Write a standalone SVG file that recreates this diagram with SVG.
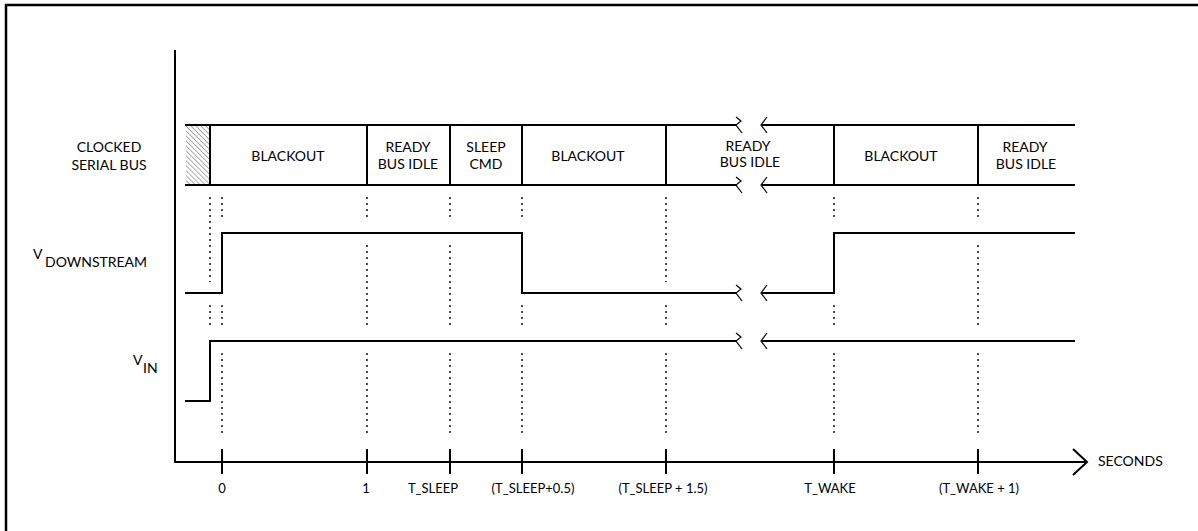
<svg xmlns="http://www.w3.org/2000/svg" width="1198" height="531" viewBox="0 0 1198 531">
<defs>
<pattern id="hatch" patternUnits="userSpaceOnUse" width="3.5" height="3.5" patternTransform="rotate(-45)">
<line x1="0" y1="0" x2="0" y2="3.5" stroke="#333" stroke-width="0.8"/>
</pattern>
</defs>
<style>
.ln{fill:none;stroke:#000;stroke-width:2}
.thin{fill:none;stroke:#000;stroke-width:1.2}
.dot{fill:none;stroke:#000;stroke-width:1.4;stroke-dasharray:2 4}
text{font-family:Lato,"Liberation Sans",sans-serif;fill:#000}
.lbl{font-size:14px}
.tk{font-size:13px;text-anchor:middle}
.c{text-anchor:middle}
</style>
<rect x="6" y="5" width="1200" height="540" fill="#fff" stroke="#000" stroke-width="2.5"/>

<g id="axes">
<line class="ln" x1="175" y1="50" x2="175" y2="462"/>
<line class="ln" x1="174" y1="462" x2="1087" y2="462"/>
<polyline class="ln" points="1073,449 1087,462 1073,475"/>
<g class="ln">
<line x1="222" y1="449" x2="222" y2="474"/>
<line x1="367" y1="449" x2="367" y2="474"/>
<line x1="450" y1="449" x2="450" y2="474"/>
<line x1="522" y1="449" x2="522" y2="474"/>
<line x1="666" y1="449" x2="666" y2="474"/>
<line x1="834" y1="449" x2="834" y2="474"/>
<line x1="978" y1="449" x2="978" y2="474"/>
</g>
<text class="lbl" x="1098" y="466">SECONDS</text>
<text class="tk" x="222" y="493">0</text>
<text class="tk" x="366" y="493">1</text>
<text class="tk" x="433" y="493">T_SLEEP</text>
<text class="tk" x="533" y="493">(T_SLEEP+0.5)</text>
<text class="tk" x="663" y="493">(T_SLEEP + 1.5)</text>
<text class="tk" x="830" y="493">T_WAKE</text>
<text class="tk" x="979" y="493">(T_WAKE + 1)</text>
</g>

<g id="labels">
<text class="lbl c" x="109" y="152">CLOCKED</text>
<text class="lbl c" x="109" y="170">SERIAL BUS</text>
<text class="lbl" x="33" y="259">V</text>
<text class="lbl" x="45" y="267">DOWNSTREAM</text>
<text class="lbl" x="133" y="365">V</text>
<text class="lbl" x="143" y="373">IN</text>
</g>

<g id="bus">
<rect x="186" y="126" width="24" height="58" fill="url(#hatch)"/>
<line class="ln" x1="185" y1="125" x2="737" y2="125"/>
<line class="ln" x1="185" y1="185" x2="737" y2="185"/>
<line class="ln" x1="762" y1="125" x2="1075" y2="125"/>
<line class="ln" x1="762" y1="185" x2="1075" y2="185"/>
<polyline class="thin" points="736,117 741,121 736,125 742,133"/>
<polyline class="thin" points="736,177 741,181 736,185 742,193"/>
<polyline class="thin" points="767,117 761,125 767,133"/>
<polyline class="thin" points="767,177 761,185 767,193"/>
<g class="ln">
<line x1="210" y1="125" x2="210" y2="185"/>
<line x1="367" y1="125" x2="367" y2="185"/>
<line x1="450" y1="125" x2="450" y2="185"/>
<line x1="522" y1="125" x2="522" y2="185"/>
<line x1="666" y1="125" x2="666" y2="185"/>
<line x1="834" y1="125" x2="834" y2="185"/>
<line x1="978" y1="125" x2="978" y2="185"/>
</g>
<text class="lbl c" x="288" y="161">BLACKOUT</text>
<text class="lbl c" x="408" y="152">READY</text>
<text class="lbl c" x="408" y="169">BUS IDLE</text>
<text class="lbl c" x="486" y="152">SLEEP</text>
<text class="lbl c" x="486" y="169">CMD</text>
<text class="lbl c" x="588" y="161">BLACKOUT</text>
<text class="lbl c" x="748" y="151">READY</text>
<text class="lbl c" x="750" y="167">BUS IDLE</text>
<text class="lbl c" x="901" y="161">BLACKOUT</text>
<text class="lbl c" x="1025" y="152">READY</text>
<text class="lbl c" x="1026" y="169">BUS IDLE</text>
</g>

<g id="vdownstream">
<polyline class="ln" points="185,293 222,293 222,233 522,233 522,293 737,293"/>
<polyline class="thin" points="736,285 741,289 736,293 742,301"/>
<polyline class="thin" points="767,285 761,293 767,301"/>
<polyline class="ln" points="762,293 834,293 834,233 1075,233"/>
</g>

<g id="vin">
<polyline class="ln" points="185,401 210,401 210,341 737,341"/>
<polyline class="thin" points="736,333 741,337 736,341 742,349"/>
<polyline class="thin" points="767,333 761,341 767,349"/>
<line class="ln" x1="762" y1="341" x2="1075" y2="341"/>
</g>

<g id="connectors">
<line class="dot" x1="210" y1="197" x2="210" y2="282"/>
<line class="dot" x1="210" y1="305" x2="210" y2="325"/>
<line class="dot" x1="222" y1="197" x2="222" y2="217"/>
<line class="dot" x1="222" y1="305" x2="222" y2="325"/>
<line class="dot" x1="222" y1="353" x2="222" y2="437"/>
<line class="dot" x1="367" y1="197" x2="367" y2="217"/>
<line class="dot" x1="367" y1="245" x2="367" y2="325"/>
<line class="dot" x1="367" y1="353" x2="367" y2="437"/>
<line class="dot" x1="450" y1="197" x2="450" y2="217"/>
<line class="dot" x1="450" y1="245" x2="450" y2="325"/>
<line class="dot" x1="450" y1="353" x2="450" y2="437"/>
<line class="dot" x1="522" y1="197" x2="522" y2="217"/>
<line class="dot" x1="522" y1="305" x2="522" y2="325"/>
<line class="dot" x1="522" y1="353" x2="522" y2="437"/>
<line class="dot" x1="666" y1="197" x2="666" y2="282"/>
<line class="dot" x1="666" y1="305" x2="666" y2="325"/>
<line class="dot" x1="666" y1="353" x2="666" y2="437"/>
<line class="dot" x1="834" y1="197" x2="834" y2="217"/>
<line class="dot" x1="834" y1="305" x2="834" y2="325"/>
<line class="dot" x1="834" y1="353" x2="834" y2="437"/>
<line class="dot" x1="978" y1="197" x2="978" y2="217"/>
<line class="dot" x1="978" y1="245" x2="978" y2="325"/>
<line class="dot" x1="978" y1="353" x2="978" y2="437"/>
</g>
</svg>
